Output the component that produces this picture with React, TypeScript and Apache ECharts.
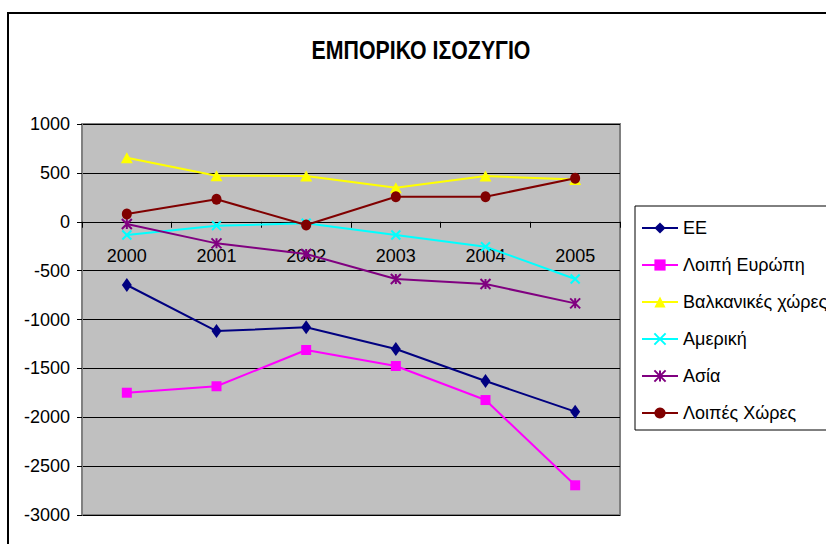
import React, { useEffect, useRef } from "react";
import * as echarts from "echarts";

const years = ["2000", "2001", "2002", "2003", "2004", "2005"];
const seriesNames = ["ΕΕ", "Λοιπή Ευρώπη", "Βαλκανικές χώρες", "Αμερική", "Ασία", "Λοιπές Χώρες"];
const ee = [-647, -1118, -1080, -1302, -1629, -1943];
const loipiEuropi = [-1749, -1683, -1312, -1476, -1824, -2696];
const balkanikes = [655, 471, 468, 348, 468, 432];
const ameriki = [-136, -40, -16, -136, -255, -586];
const asia = [-23, -221, -330, -586, -637, -835];
const loipesXores = [79, 230, -33, 256, 256, 444];
const colors = ["#000080", "#FF00FF", "#FFFF00", "#00FFFF", "#800080", "#800000"];
const yTicks = { min: -3000, max: 1000, interval: 500 };

const FONT = "'Liberation Sans', Arial, sans-serif";
const GRID = { left: 82, right: 206, top: 124, bottom: 29 };
const HEIGHT = 544;

export default function App() {
  const ref = useRef<HTMLDivElement>(null);
  useEffect(() => {
    if (!ref.current) return;
    const chart = echarts.init(ref.current, null, { renderer: "svg" });
    const values = [ee, loipiEuropi, balkanikes, ameriki, asia, loipesXores];
    const symbols = [
      "diamond",
      "rect",
      "triangle",
      "path://M0,0L10,10M10,0L0,10",
      "path://M0,0L10,10M10,0L0,10M5,0L5,10",
      "circle",
    ];
    const sizes: any[] = [[10, 14], 10, [12, 11], 9, 10, [10, 11]];
    // place the category axis on the zero line of the value axis
    const gridHeight = HEIGHT - GRID.top - GRID.bottom;
    const zeroOffset = -gridHeight * (0 - yTicks.min) / (yTicks.max - yTicks.min);
    chart.setOption({
      animation: false,
      textStyle: { fontFamily: FONT },
      graphic: [
        {
          type: "rect",
          shape: { x: 8, y: 13, width: 900, height: 600 },
          style: { fill: "none", stroke: "#000", lineWidth: 2 },
          z: -10,
        },
        {
          type: "text",
          x: 421,
          y: 50,
          scaleX: 0.82,
          style: {
            text: "ΕΜΠΟΡΙΚΟ ΙΣΟΖΥΓΙΟ",
            font: "bold 26px " + FONT,
            fill: "#000",
            align: "center",
            verticalAlign: "middle",
          },
        },
      ],
      legend: {
        orient: "vertical",
        left: 635,
        top: 206,
        itemWidth: 36,
        itemHeight: 14,
        itemGap: 19,
        padding: [13, 60, 8, 6],
        borderColor: "#000",
        borderWidth: 1,
        textStyle: { fontFamily: FONT, fontSize: 18, color: "#000" },
        data: seriesNames,
      },
      grid: {
        ...GRID,
        outerBoundsMode: "none",
        containLabel: false,
        show: true,
        backgroundColor: "#C0C0C0",
        borderColor: "#808080",
        borderWidth: 2,
      },
      xAxis: {
        type: "category",
        data: years,
        boundaryGap: true,
        offset: zeroOffset,
        axisLine: { onZero: false, lineStyle: { color: "#000", width: 1 } },
        axisTick: { show: true, length: 6, inside: false, lineStyle: { color: "#000" } },
        axisLabel: { fontFamily: FONT, fontSize: 18, color: "#000", margin: 25 },
        splitLine: { show: false },
      },
      yAxis: {
        type: "value",
        min: yTicks.min,
        max: yTicks.max,
        interval: yTicks.interval,
        axisLine: { show: true, lineStyle: { color: "#808080", width: 2 } },
        axisTick: { show: true, length: 5, lineStyle: { color: "#000" } },
        axisLabel: {
          fontFamily: FONT,
          fontSize: 18,
          color: "#000",
          margin: 12,
          formatter: (v: number) => String(v),
        },
        splitLine: { show: true, lineStyle: { color: "#000", width: 1 } },
      },
      series: seriesNames.map((name, i) => ({
        name,
        type: "line",
        data: values[i],
        symbol: symbols[i],
        symbolSize: sizes[i],
        showAllSymbol: true,
        lineStyle: { color: colors[i], width: 2 },
        itemStyle: {
          color: colors[i],
          borderColor: colors[i],
          borderWidth: i === 3 || i === 4 ? 2 : 0,
        },
        emphasis: { disabled: true },
      })),
    });
    return () => chart.dispose();
  }, []);
  return (
    <div
      ref={ref}
      style={{ position: "fixed", left: 0, top: 0, width: 826, height: HEIGHT, background: "#fff" }}
    />
  );
}
